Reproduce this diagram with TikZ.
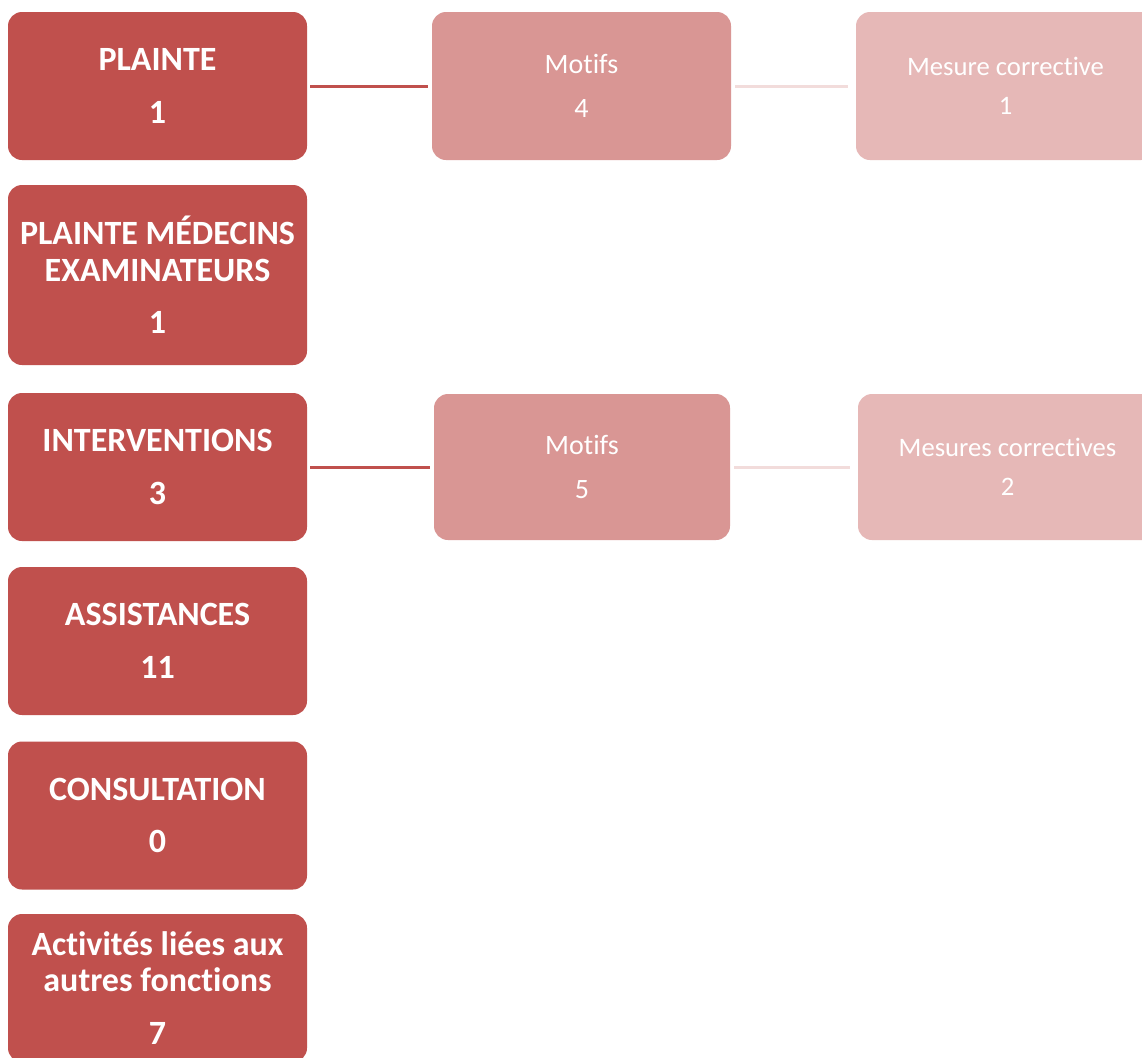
\documentclass[tikz,border=0pt]{standalone}
\usepackage{fontspec}
\setmainfont{Carlito}[Ligatures=NoCommon]
\definecolor{darkred}{HTML}{C0504D}
\definecolor{midred}{HTML}{D99694}
\definecolor{lightred}{HTML}{E6B8B7}
\definecolor{lineA}{HTML}{C0504D}
\definecolor{lineB}{HTML}{F2DCDB}
\begin{document}
\begin{tikzpicture}[x=0.75pt,y=-0.75pt]
\tikzset{
  base/.style={rounded corners=10.5pt, inner sep=0pt, align=center, text=white},
  mainbox/.style={base, fill=darkred, minimum width=224.25pt, minimum height=111pt,
    font=\fontsize{25.5}{27.2}\selectfont\bfseries},
  midbox/.style={base, fill=midred, minimum width=224.25pt, minimum height=111pt,
    font=\fontsize{21}{24}\selectfont},
  rightbox/.style={base, fill=lightred, minimum width=224.25pt, minimum height=111pt,
    font=\fontsize{20}{23}\selectfont},
  darkline/.style={draw=lineA, line width=2.25pt, shorten <=2.25pt, shorten >=3pt},
  lightline/.style={draw=lineB, line width=2.25pt, shorten <=3pt, shorten >=6pt}
}
\useasboundingbox (0,0) rectangle (1142,1057);
\clip (0,0) rectangle (1142,1057);
\fill[white] (0,0) rectangle (1142,1057);

\node[mainbox] (plainte) at (157.5,86) {PLAINTE\\[12.4pt]1};
\node[mainbox, minimum height=135pt] (medecins) at (157.5,275) {PLAINTE MÉDECINS\\EXAMINATEURS\\[12.4pt]1};
\node[mainbox] (interv) at (157.5,467) {INTERVENTIONS\\[12.4pt]3};
\node[mainbox] (assist) at (157.5,641) {ASSISTANCES\\[12.4pt]11};
\node[mainbox] (consult) at (157.5,815.5) {CONSULTATION\\[12.4pt]0};
\node[mainbox] (activ) at (157.5,988) {Activités liées aux\\autres fonctions\\[12.4pt]7};

\node[midbox] (motifsA) at (581.5,86) {Motifs\\[9pt]4};
\node[midbox, minimum width=222pt, minimum height=109.5pt] (motifsB) at (582,467) {Motifs\\[9pt]5};

\node[rightbox] (mesureA) at (1005.5,86) {Mesure corrective\\[6pt]1};
\node[rightbox, minimum height=109.5pt] (mesureB) at (1007.5,467) {Mesures correctives\\[6pt]2};

\draw[darkline] (plainte.east) -- (motifsA.west);
\draw[lightline] (motifsA.east) -- (mesureA.west);
\draw[darkline] (interv.east) -- (motifsB.west);
\draw[lightline] (motifsB.east) -- (mesureB.west);
\end{tikzpicture}
\end{document}
